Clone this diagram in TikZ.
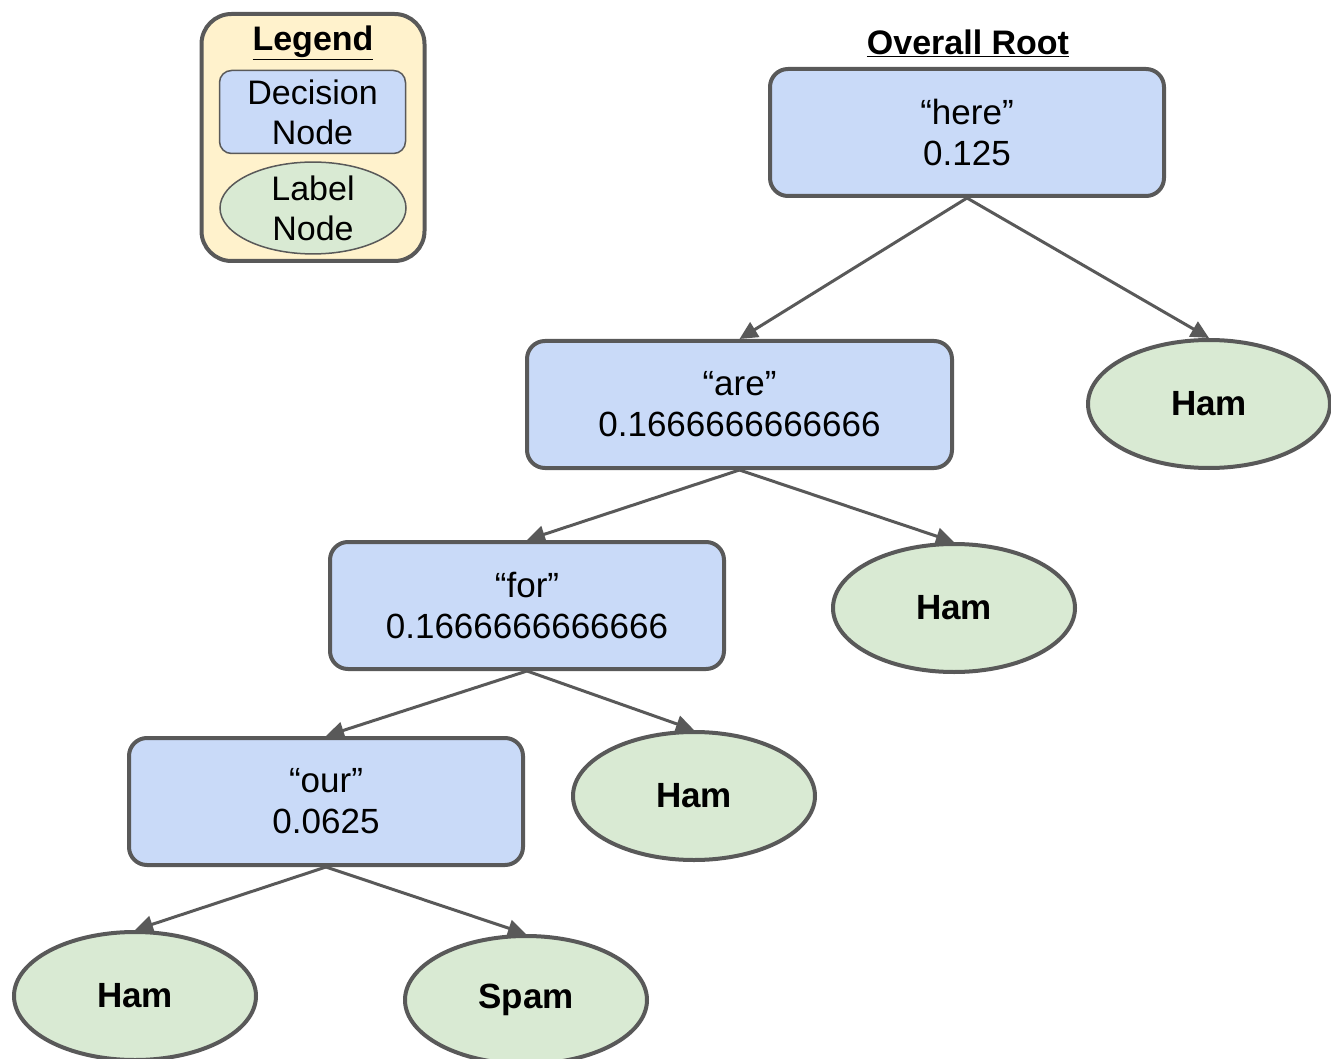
\documentclass[tikz,border=0pt]{standalone}
\usepackage{fontspec}
\setmainfont{Liberation Sans}
\usetikzlibrary{shapes.geometric, arrows.meta}
\definecolor{edgegray}{HTML}{595959}
\definecolor{decblue}{HTML}{C9DAF8}
\definecolor{labgreen}{HTML}{D9EAD3}
\definecolor{legendyellow}{HTML}{FFF2CC}
\tikzset{decision/.style={draw=edgegray,line width=4pt,fill=decblue,rounded corners=18pt,
            minimum width=394pt,minimum height=127pt,align=center,inner sep=0pt,
            font=\fontsize{35}{41}\selectfont},
         leaf/.style={ellipse,draw=edgegray,line width=4pt,fill=labgreen,
            minimum width=242pt,minimum height=128pt,inner sep=0pt,
            font=\fontsize{35}{41}\selectfont\bfseries},
         heading/.style={font=\fontsize{34}{38}\selectfont\bfseries,inner sep=0pt},
         branch/.style={draw=edgegray,line width=3pt,-{Triangle[length=18pt,width=17pt]}},
        }
\begin{document}
\begin{tikzpicture}[x=1pt,y=-1pt]
        \useasboundingbox (0,0) rectangle (1331,1059);

        % legend
        \node[draw=edgegray,line width=4pt,fill=legendyellow,rounded corners=30pt,
              minimum width=223pt,minimum height=247pt](legend)at(313,137.5){};
        \node[heading](legendtitle)at(313,43){\underline{Legend}};
        \node[decision,line width=1.5pt,rounded corners=12pt,minimum width=186pt,
              minimum height=83pt,font=\fontsize{34}{40}\selectfont](legdec)at(312.5,112){Decision\\Node};
        \node[leaf,line width=1.5pt,minimum width=186pt,minimum height=84pt,align=center,
              font=\fontsize{34}{40}\selectfont](leglab)at(313,208){Label\\Node};

        % tree
        \node[heading](roottitle)at(968,43){\underline{Overall Root}};
        \node[decision](here)at(967,132.5){“here”\\0.125};
        \node[leaf](ham1)at(1209,404){Ham};
        \node[decision,minimum width=425pt](are)at(739.5,404.5){“are”\\0.1666666666666};
        \node[leaf](ham2)at(954,608){Ham};
        \node[decision](for)at(527,605.5){“for”\\0.1666666666666};
        \node[leaf](ham3)at(694,796){Ham};
        \node[decision](our)at(326,801.5){“our”\\0.0625};
        \node[leaf](ham4)at(135,996){Ham};
        \node[leaf](spam)at(526,1000){Spam};

        \draw[branch](here.south)--(are.north);
        \draw[branch](here.south)--(ham1.north);
        \draw[branch](are.south)--(for.north);
        \draw[branch](are.south)--(ham2.north);
        \draw[branch](for.south)--(our.north);
        \draw[branch](for.south)--(ham3.north);
        \draw[branch](our.south)--(ham4.north);
        \draw[branch](our.south)--(spam.north);
\end{tikzpicture}
\end{document}
